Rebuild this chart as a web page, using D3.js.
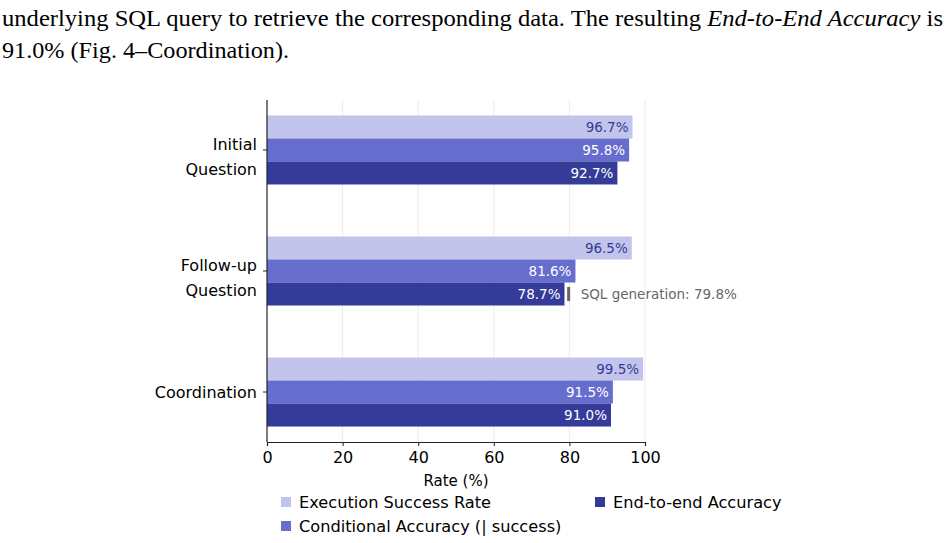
<!DOCTYPE html>
<html><head><meta charset="utf-8">
<script src="https://cdn.jsdelivr.net/npm/d3@7"></script>
<style>body{margin:0;background:#fff;}svg{display:block;}</style>
</head><body>
<script>
const categories = [["Initial","Question"],["Follow-up","Question"],["Coordination"]];
const seriesNames = ["Execution Success Rate","Conditional Accuracy (| success)","End-to-end Accuracy"];
const execSuccess = [96.7, 96.5, 99.5];
const condAccuracy = [95.8, 81.6, 91.5];
const endToEnd = [92.7, 78.7, 91.0];
const sqlGeneration = 79.8;
const xTicks = [0,20,40,60,80,100];
const colors = ["#c2c4eb","#676dcd","#343b98"];
const labelColors = ["#343b98","#ffffff","#ffffff"];

const W=947,H=543;
const svg=d3.select("body").append("svg").attr("width",W).attr("height",H);

// paragraph text
const t1=svg.append("text").attr("x",2).attr("y",26).attr("font-family","Liberation Serif").attr("font-size",24).attr("fill","#000")
  .attr("textLength",941).attr("lengthAdjust","spacingAndGlyphs");
t1.append("tspan").text("underlying SQL query to retrieve the corresponding data.  The resulting ");
t1.append("tspan").attr("font-style","italic").text("End-to-End Accuracy");
t1.append("tspan").text(" is");
svg.append("text").attr("x",2).attr("y",58).attr("font-family","Liberation Serif").attr("font-size",24)
  .attr("textLength",287).attr("lengthAdjust","spacingAndGlyphs").text("91.0% (Fig. 4–Coordination).");

const x=d3.scaleLinear().domain([0,100]).range([267,645]);
const y=d3.scaleLinear().domain([-0.413,2.413]).range([100,442]);
const barH=23;
const series=[execSuccess,condAccuracy,endToEnd];

// grid
svg.append("g").selectAll("line").data(xTicks.slice(1)).join("line")
  .attr("x1",d=>x(d)).attr("x2",d=>x(d)).attr("y1",100).attr("y2",442)
  .attr("stroke","#ebebeb").attr("stroke-width",1);

// bars
series.forEach((vals,si)=>{
  const g=svg.append("g");
  g.selectAll("rect").data(vals).join("rect")
    .attr("x",x(0)).attr("width",d=>x(d)-x(0))
    .attr("y",(d,i)=>y(i)-1.5*barH+si*barH).attr("height",barH)
    .attr("fill",colors[si]);
  g.selectAll("text").data(vals).join("text")
    .attr("x",d=>x(d)-4).attr("y",(d,i)=>y(i)-1.5*barH+si*barH+barH/2)
    .attr("dy","0.35em").attr("text-anchor","end")
    .attr("font-family","DejaVu Sans").attr("font-size",13.5).attr("fill",labelColors[si])
    .text(d=>d.toFixed(1)+"%");
});

// SQL generation annotation
const ay=y(1)-1.5*barH+2*barH+barH/2;
svg.append("line").attr("x1",x(sqlGeneration)).attr("x2",x(sqlGeneration))
  .attr("y1",ay-7).attr("y2",ay+7).attr("stroke","#666").attr("stroke-width",3);
svg.append("text").attr("x",x(sqlGeneration)+12).attr("y",ay).attr("dy","0.35em")
  .attr("font-family","DejaVu Sans").attr("font-size",13.5).attr("fill","#666")
  .text("SQL generation: "+sqlGeneration.toFixed(1)+"%");

// x axis
const xa=svg.append("g").attr("transform","translate(0,442)")
  .call(d3.axisBottom(x).tickValues(xTicks).tickSize(4).tickPadding(6).tickFormat(d3.format("d")));
xa.select(".domain").attr("stroke","#222").attr("stroke-width",1.2);
xa.selectAll(".tick line").attr("stroke","#222");
xa.selectAll("text").attr("font-family","DejaVu Sans").attr("font-size",16).attr("fill","#000");
svg.append("text").attr("x",(x(0)+x(100))/2).attr("y",481).attr("dy","0.35em").attr("text-anchor","middle")
  .attr("font-family","DejaVu Sans").attr("font-size",15).text("Rate (%)");

// y axis
svg.append("line").attr("x1",267).attr("x2",267).attr("y1",100).attr("y2",442).attr("stroke","#222").attr("stroke-width",1.2);
categories.forEach((c,i)=>{
  svg.append("line").attr("x1",263).attr("x2",267).attr("y1",y(i)).attr("y2",y(i)).attr("stroke","#222");
  const tt=svg.append("text").attr("text-anchor","end").attr("font-family","DejaVu Sans").attr("font-size",16).attr("fill","#000");
  const n=c.length;
  c.forEach((line,j)=>{
    const off = n===1 ? 0 : (j===0 ? -6 : 19);
    tt.append("tspan").attr("x",257).attr("y",y(i)+off).attr("dy","0.35em").text(line);
  });
});

// legend
const leg=[[281,502,0],[281,526,1],[595,502,2]];
leg.forEach(([lx,ly,si])=>{
  svg.append("rect").attr("x",lx).attr("y",ly-5).attr("width",10).attr("height",10).attr("fill",colors[si]);
  svg.append("text").attr("x",lx+18).attr("y",ly).attr("dy","0.35em").attr("font-family","DejaVu Sans").attr("font-size",16.2).text(seriesNames[si]);
});
</script>
</body></html>
